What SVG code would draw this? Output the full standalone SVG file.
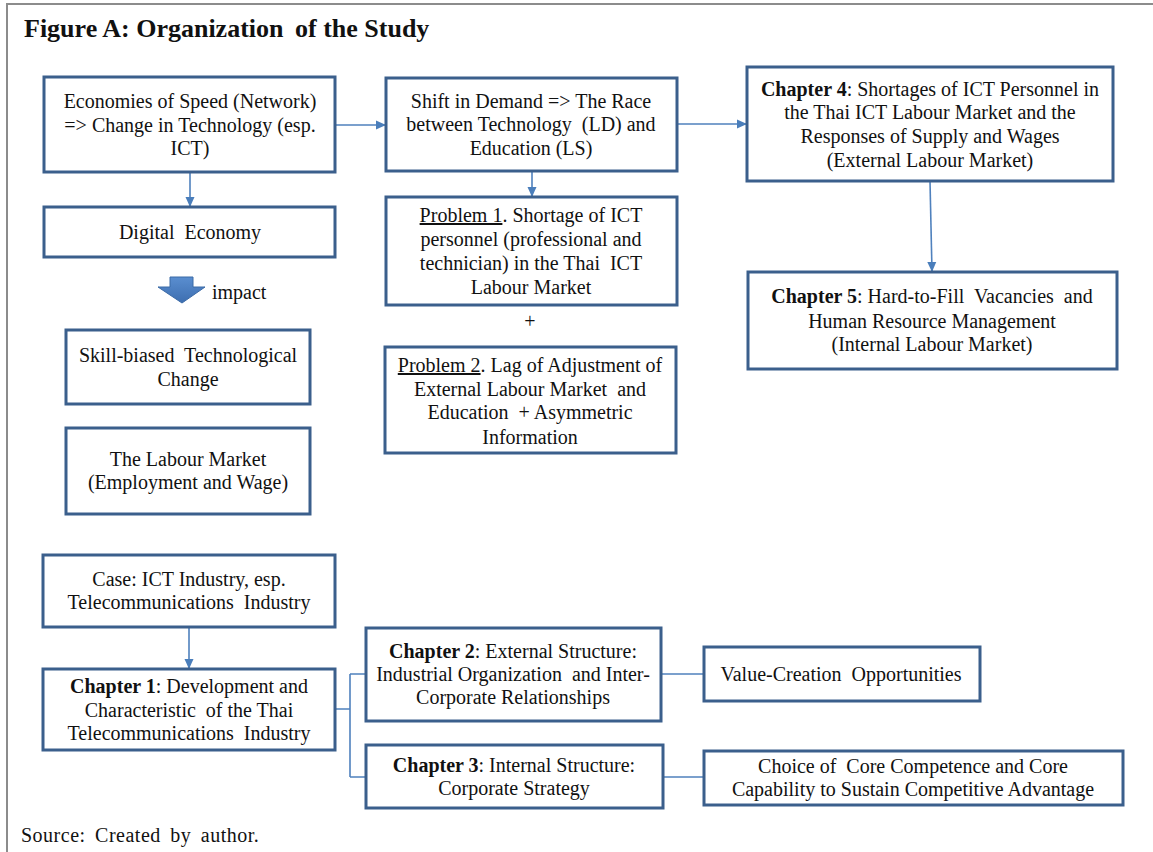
<svg xmlns="http://www.w3.org/2000/svg" width="1153" height="852" viewBox="0 0 1153 852">
  <style>
    .box { fill: #ffffff; stroke: #3b5f8c; stroke-width: 3; }
    .t { font-family: "Liberation Serif", "Times New Roman", serif; font-size: 20px; fill: #111111; text-anchor: middle; white-space: pre; }
    .b { font-weight: bold; }
    .u { text-decoration: underline; }
    .conn { fill: none; stroke: #4f81bd; stroke-width: 1.6; }
    .arr { marker-end: url(#head); }
  </style>
  <defs>
    <marker id="head" markerUnits="userSpaceOnUse" markerWidth="10" markerHeight="10" refX="10" refY="5" orient="auto">
      <path d="M0,0.5 L10,5 L0,9.5 z" fill="#4a7ebb"/>
    </marker>
    <linearGradient id="blockFill" x1="0" y1="0" x2="0" y2="1">
      <stop offset="0" stop-color="#5a8ed0"/>
      <stop offset="1" stop-color="#3d6eb0"/>
    </linearGradient>
  </defs>

  <rect x="0" y="0" width="1153" height="852" fill="#ffffff"/>
  <!-- outer frame -->
  <rect x="7" y="4" width="1160" height="870" fill="none" stroke="#8c8c8c" stroke-width="2"/>

  <text x="24" y="37" font-family="Liberation Serif, serif" font-size="26" font-weight="bold" fill="#111">Figure A: Organization <tspan dx="5">of the Study</tspan></text>

  <!-- connectors -->
  <g id="connectors">
    <line class="conn arr" x1="335" y1="125" x2="386" y2="125"/>
    <line class="conn arr" x1="677" y1="124" x2="747" y2="124"/>
    <line class="conn arr" x1="190" y1="172" x2="190" y2="207"/>
    <line class="conn arr" x1="532" y1="171" x2="532" y2="197"/>
    <line class="conn arr" x1="930" y1="181" x2="932" y2="272"/>
    <line class="conn arr" x1="189" y1="627" x2="189" y2="669"/>
    <path class="conn" d="M335,709 H350 M350,674 V777 M350,674 H366 M350,777 H366"/>
    <line class="conn" x1="661" y1="674" x2="704" y2="674"/>
    <line class="conn" x1="663" y1="777" x2="704" y2="777"/>
    <!-- impact block arrow -->
    <path d="M170,277 H193 V287 H205 L182,303 L158,287 H170 Z" fill="url(#blockFill)" stroke="#3b6aa6" stroke-width="1"/>
    <text x="212" y="299" font-family="Liberation Serif, serif" font-size="20" fill="#111">impact</text>
    <text x="530" y="328" class="t" font-size="18" fill="#555">+</text>
  </g>

  <g id="economies">
    <rect class="box" x="44" y="77" width="291" height="95"/>
    <text class="t" x="190" y="108">Economies of Speed (Network)</text>
    <text class="t" x="190" y="132">=&gt; Change in Technology (esp.</text>
    <text class="t" x="190" y="155">ICT)</text>
  </g>

  <g id="digital">
    <rect class="box" x="44" y="207" width="291" height="50"/>
    <text class="t" x="190" y="239">Digital  Economy</text>
  </g>

  <g id="shift">
    <rect class="box" x="386" y="78" width="291" height="93"/>
    <text class="t" x="531" y="108">Shift in Demand =&gt; The Race</text>
    <text class="t" x="531" y="131">between Technology  (LD) and</text>
    <text class="t" x="531" y="155">Education (LS)</text>
  </g>

  <g id="problem1">
    <rect class="box" x="386" y="197" width="291" height="108"/>
    <text class="t" x="531" y="222"><tspan class="u">Problem 1</tspan>. Shortage of ICT</text>
    <text class="t" x="531" y="246">personnel (professional and</text>
    <text class="t" x="531" y="270">technician) in the Thai  ICT</text>
    <text class="t" x="531" y="294">Labour Market</text>
  </g>

  <g id="problem2">
    <rect class="box" x="385" y="347" width="291" height="106"/>
    <text class="t" x="530" y="372"><tspan class="u">Problem 2</tspan>. Lag of Adjustment of</text>
    <text class="t" x="530" y="396">External Labour Market  and</text>
    <text class="t" x="530" y="419">Education  + Asymmetric</text>
    <text class="t" x="530" y="444">Information</text>
  </g>

  <g id="chapter4">
    <rect class="box" x="747" y="67" width="366" height="114"/>
    <text class="t" x="930" y="96"><tspan class="b">Chapter 4</tspan>: Shortages of ICT Personnel in</text>
    <text class="t" x="930" y="119">the Thai ICT Labour Market and the</text>
    <text class="t" x="930" y="143">Responses of Supply and Wages</text>
    <text class="t" x="930" y="167">(External Labour Market)</text>
  </g>

  <g id="chapter5">
    <rect class="box" x="748" y="272" width="369" height="97"/>
    <text class="t" x="932" y="303"><tspan class="b">Chapter 5</tspan>: Hard-to-Fill  Vacancies  and</text>
    <text class="t" x="932" y="328">Human Resource Management</text>
    <text class="t" x="932" y="351">(Internal Labour Market)</text>
  </g>

  <g id="skill">
    <rect class="box" x="66" y="330" width="244" height="74"/>
    <text class="t" x="188" y="362">Skill-biased  Technological</text>
    <text class="t" x="188" y="386">Change</text>
  </g>

  <g id="labour">
    <rect class="box" x="66" y="428" width="244" height="86"/>
    <text class="t" x="188" y="466">The Labour Market</text>
    <text class="t" x="188" y="489">(Employment and Wage)</text>
  </g>

  <g id="case">
    <rect class="box" x="43" y="555" width="292" height="72"/>
    <text class="t" x="189" y="586">Case: ICT Industry, esp.</text>
    <text class="t" x="189" y="609">Telecommunications  Industry</text>
  </g>

  <g id="chapter1">
    <rect class="box" x="43" y="669" width="292" height="81"/>
    <text class="t" x="189" y="693"><tspan class="b">Chapter 1</tspan>: Development and</text>
    <text class="t" x="189" y="717">Characteristic  of the Thai</text>
    <text class="t" x="189" y="740">Telecommunications  Industry</text>
  </g>

  <g id="chapter2">
    <rect class="box" x="366" y="628" width="295" height="93"/>
    <text class="t" x="513" y="658"><tspan class="b">Chapter 2</tspan>: External Structure:</text>
    <text class="t" x="513" y="681">Industrial Organization  and Inter-</text>
    <text class="t" x="513" y="704">Corporate Relationships</text>
  </g>

  <g id="chapter3">
    <rect class="box" x="366" y="745" width="297" height="63"/>
    <text class="t" x="514" y="772"><tspan class="b">Chapter 3</tspan>: Internal Structure:</text>
    <text class="t" x="514" y="795">Corporate Strategy</text>
  </g>

  <g id="value">
    <rect class="box" x="704" y="647" width="276" height="54"/>
    <text class="t" x="841" y="681">Value-Creation  Opportunities</text>
  </g>

  <g id="choice">
    <rect class="box" x="704" y="751" width="419" height="54"/>
    <text class="t" x="913" y="773">Choice of  Core Competence and Core</text>
    <text class="t" x="913" y="796">Capability to Sustain Competitive Advantage</text>
  </g>

  <text x="21" y="842" font-family="Liberation Serif, serif" font-size="20" fill="#111" word-spacing="4" letter-spacing="0.5">Source: Created by author.</text>
</svg>
